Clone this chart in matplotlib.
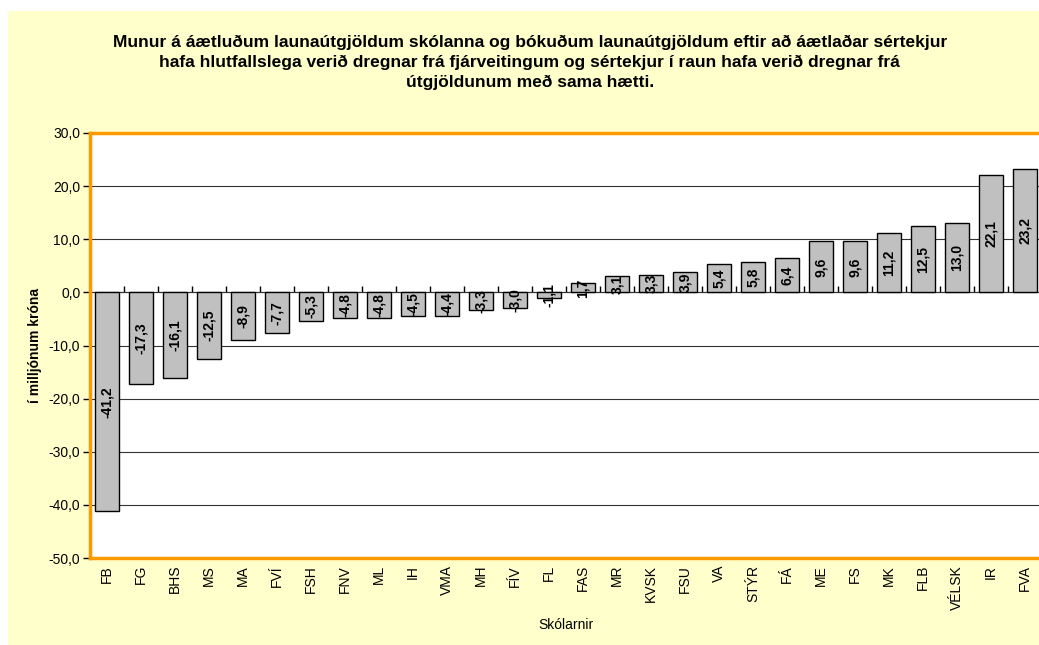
import matplotlib
matplotlib.use('Agg')
import matplotlib.pyplot as plt
from matplotlib.patches import Rectangle
from matplotlib.ticker import FuncFormatter, MultipleLocator, NullFormatter

# data
schools = ['FB', 'FG', 'BHS', 'MS', 'MA', 'FVÍ', 'FSH', 'FNV', 'ML', 'IH', 'VMA', 'MH', 'FÍV', 'FL',
           'FAS', 'MR', 'KVSK', 'FSU', 'VA', 'STÝR', 'FÁ', 'ME', 'FS', 'MK', 'FLB', 'VÉLSK', 'IR', 'FVA']
diff = [-41.2, -17.3, -16.1, -12.5, -8.9, -7.7, -5.3, -4.8, -4.8, -4.5, -4.4, -3.3, -3.0, -1.1,
        1.7, 3.1, 3.3, 3.9, 5.4, 5.8, 6.4, 9.6, 9.6, 11.2, 12.5, 13.0, 22.1, 23.2]

title = ('Munur á áætluðum launaútgjöldum skólanna og bókuðum launaútgjöldum eftir að áætlaðar sértekjur\n'
         'hafa hlutfallslega verið dregnar frá fjárveitingum og sértekjur í raun hafa verið dregnar frá\n'
         'útgjöldunum með sama hætti.')

plt.rcParams['font.family'] = ['Liberation Sans', 'DejaVu Sans']

W, H = 1039, 645
fig = plt.figure(figsize=(W / 100, H / 100), dpi=100, facecolor='white')
# yellow chart area (behind everything)
bg = Rectangle((8 / W, 0), 1 - 8 / W, 1 - 11 / H, transform=fig.transFigure,
               facecolor='#FFFFCC', edgecolor='none', zorder=-10)
fig.add_artist(bg)

left, right, top, bottom = 90, 1042, 133, 558
ax = fig.add_axes([left / W, 1 - bottom / H, (right - left) / W, (bottom - top) / H], zorder=1)
ax.set_facecolor('white')

x = list(range(len(schools)))
bars = ax.bar(x, diff, width=0.68, color='#C0C0C0', edgecolor='black', linewidth=1.0, zorder=3)
ax.bar_label(bars, labels=[f'{v:.1f}'.replace('.', ',') for v in diff], label_type='center',
             rotation=90, fontsize=10, fontweight='bold', zorder=4)

ax.set_xlim(-0.5, len(schools) - 0.5)
ax.set_ylim(-50, 30)
ax.yaxis.set_major_locator(MultipleLocator(10))
ax.yaxis.set_major_formatter(FuncFormatter(lambda v, p: f'{v:.1f}'.replace('.', ',')))
ax.grid(axis='y', color='#333333', linewidth=0.8, zorder=1)
ax.set_axisbelow(True)

ax.set_xticks(x)
ax.set_xticklabels(schools, rotation=90, fontsize=10)
ax.tick_params(axis='x', length=0, pad=5)
ax.tick_params(axis='y', direction='out', length=5, width=1, color='black', labelsize=10, pad=2)

for s in ['left', 'top', 'bottom', 'right']:
    ax.spines[s].set_color('#FF9900')
    ax.spines[s].set_linewidth(2.5)

# zero line with category separator ticks
zero = ax.secondary_xaxis(50 / 80)
zero.spines['bottom'].set_color('black')
zero.spines['bottom'].set_linewidth(1.0)
zero.set_xticks([i + 0.5 for i in x[:-1]])
zero.xaxis.set_major_formatter(NullFormatter())
zero.tick_params(axis='x', direction='out', length=4, width=1, color='black')

ax.set_ylabel('í milljónum króna', fontsize=10, fontweight='bold', labelpad=5)
ax.set_xlabel('Skólarnir', fontsize=10, labelpad=6)

fig.text(0.51, 1 - 35 / H, title, ha='center', va='top', fontsize=12.5, fontweight='bold',
         linespacing=1.38)

fig.savefig('out.png', dpi=100, facecolor=fig.get_facecolor())
